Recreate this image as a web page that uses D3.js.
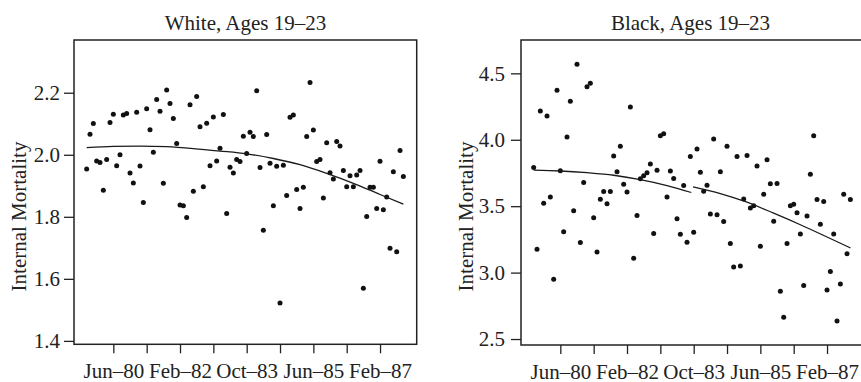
<!DOCTYPE html>
<html>
<head>
<meta charset="utf-8">
<script src="https://cdn.jsdelivr.net/npm/d3@7"></script>
<style>
    body { margin: 0; background: #fff; }
    text { font-family: "Liberation Serif", "Times New Roman", serif; fill: #222; }
</style>
</head>
<body>
<svg id="chart" width="861" height="382"></svg>
<script>
// months are counted from Jun-80 (= 0); both series run monthly Oct-79 .. Sep-87
const firstMonth = -8;
const tickMonths = [0, 10, 20, 30, 40, 50, 60, 70, 80];
const tickLabels = ['Jun–80', '', 'Feb–82', '', 'Oct–83', '', 'Jun–85', '', 'Feb–87'];

const whiteTitle = 'White, Ages 19–23';
const whiteTicks = [1.4, 1.6, 1.8, 2.0, 2.2];
const whiteValues = [
    1.954, 2.066, 2.101, 1.980, 1.975, 1.886, 1.985, 2.104,
    2.131, 1.965, 2.000, 2.128, 2.133, 1.941, 1.909, 2.137, 1.964, 1.846,
    2.148, 2.081, 2.008, 2.178, 2.140, 1.908, 2.209, 2.165, 2.117, 2.036,
    1.838, 1.836, 1.798, 2.161, 1.882, 2.188, 2.090, 1.897, 2.102, 1.965,
    2.122, 1.980, 2.021, 2.130, 1.811, 1.960, 1.941, 1.985, 1.978, 2.060,
    2.004, 2.073, 2.059, 2.206, 1.959, 1.757, 2.065, 1.973, 1.836, 1.963,
    1.522, 1.966, 1.869, 2.121, 2.128, 1.888, 1.827, 1.895, 2.059, 2.233,
    2.080, 1.978, 1.985, 1.861, 2.039, 1.942, 1.922, 2.043, 2.028, 1.949,
    1.897, 1.932, 1.897, 1.935, 1.949, 1.570, 1.801, 1.895, 1.895, 1.827,
    1.979, 1.823, 1.864, 1.699, 1.945, 1.687, 2.014, 1.930
];
// smoothed trend
const whiteFitMonths = [-8, 0, 8, 16, 24, 32, 40, 48, 56, 64, 72, 80, 87];
const whiteFitValues = [2.023, 2.027, 2.028, 2.026, 2.020, 2.012, 2.003, 1.988, 1.968, 1.940, 1.908, 1.872, 1.841];

const blackTitle = 'Black, Ages 19–23';
const blackTicks = [2.5, 3.0, 3.5, 4.0, 4.5];
const blackValues = [
    3.791, 3.176, 4.216, 3.523, 4.178, 3.570, 2.950, 4.372,
    3.766, 3.307, 4.020, 4.289, 3.465, 4.568, 3.226, 3.678, 4.400, 4.425,
    3.412, 3.156, 3.553, 3.611, 3.518, 3.611, 3.877, 3.759, 3.952, 3.666,
    3.606, 4.246, 3.108, 3.430, 3.706, 3.729, 3.751, 3.817, 3.294, 3.771,
    4.030, 4.045, 3.570, 3.764, 3.709, 3.405, 3.289, 3.656, 3.229, 3.874,
    3.304, 3.930, 3.756, 3.613, 3.658, 3.442, 4.005, 3.435, 3.759, 3.384,
    3.952, 3.219, 3.043, 3.874, 3.050, 3.555, 3.882, 3.487, 3.503, 3.802,
    3.198, 3.590, 3.849, 3.668, 3.387, 3.671, 2.859, 2.663, 3.219, 3.503,
    3.515, 3.450, 3.291, 2.902, 3.427, 3.741, 4.030, 3.550, 3.364, 3.535,
    2.869, 3.008, 3.291, 2.636, 2.915, 3.590, 3.141, 3.550
];
// trend is broken at Oct-83
const blackFit1Months = [-8, 0, 8, 16, 24, 32, 39.3];
const blackFit1Values = [3.771, 3.765, 3.752, 3.733, 3.700, 3.655, 3.603];
const blackFit2Months = [39.8, 48, 56, 64, 72, 80, 87];
const blackFit2Values = [3.645, 3.595, 3.530, 3.447, 3.360, 3.268, 3.186];

const yLabel = 'Internal Mortality';

const svg = d3.select('#chart');

function drawPanel(p) {
    const g = svg.append('g').attr('class', 'panel');

    const x = d3.scaleLinear().domain([-11.8, 91]).range([p.left, p.right]);
    const y = d3.scaleLinear().domain(p.yDomain).range([p.bottom, p.top]);

    // frame
    g.append('rect')
        .attr('x', p.left).attr('y', p.top)
        .attr('width', p.right - p.left).attr('height', p.bottom - p.top)
        .attr('fill', 'none').attr('stroke', '#222').attr('stroke-width', 1.5);

    // axes
    const xAxis = g.append('g').attr('class', 'axis axis-x')
        .attr('transform', `translate(0, ${p.bottom})`)
        .call(d3.axisBottom(x).tickValues(tickMonths).tickSize(9).tickPadding(10)
            .tickFormat((d, i) => tickLabels[i]));
    const yAxis = g.append('g').attr('class', 'axis axis-y')
        .attr('transform', `translate(${p.left}, 0)`)
        .call(d3.axisLeft(y).tickValues(p.yTicks).tickSize(10).tickPadding(p.yPad)
            .tickFormat(d3.format('.1f')));
    [xAxis, yAxis].forEach(a => {
        a.select('.domain').remove();
        a.selectAll('line').attr('stroke', '#222').attr('stroke-width', 1.3);
        a.selectAll('text').style('font-size', '21px')
            .style('font-family', '"Liberation Serif", serif').attr('fill', '#222');
    });

    // title & y label
    g.append('text')
        .attr('x', p.titleX).attr('y', 29.5)
        .attr('text-anchor', 'middle').style('font-size', '21px')
        .text(p.title);
    g.append('text')
        .attr('transform', `translate(${p.left - 48}, 216.5) rotate(-90)`)
        .attr('text-anchor', 'middle').style('font-size', '21px')
        .text(yLabel);

    // points
    g.selectAll('.dot').data(p.values).enter()
        .append('circle').attr('class', 'dot')
        .attr('cx', (d, i) => x(firstMonth + i))
        .attr('cy', d => y(d))
        .attr('r', 2.5)
        .attr('fill', '#111');

    // trend line(s)
    const line = d3.line()
        .x(d => x(d[0])).y(d => y(d[1]))
        .curve(d3.curveMonotoneX);
    p.fits.forEach(f => {
        g.append('path')
            .datum(f[0].map((m, i) => [m, f[1][i]]))
            .attr('d', line)
            .attr('fill', 'none').attr('stroke', '#1a1a1a').attr('stroke-width', 1.3);
    });
}

drawPanel({
    title: whiteTitle, titleX: 245.5,
    left: 74, right: 416.7, top: 40, bottom: 344.3,
    yDomain: [1.389, 2.370], yTicks: whiteTicks, yPad: 4,
    values: whiteValues,
    fits: [[whiteFitMonths, whiteFitValues]]
});

drawPanel({
    title: blackTitle, titleX: 690.5,
    left: 521, right: 863.7, top: 40, bottom: 345,
    yDomain: [2.455, 4.751], yTicks: blackTicks, yPad: 6,
    values: blackValues,
    fits: [[blackFit1Months, blackFit1Values], [blackFit2Months, blackFit2Values]]
});
</script>
</body>
</html>
